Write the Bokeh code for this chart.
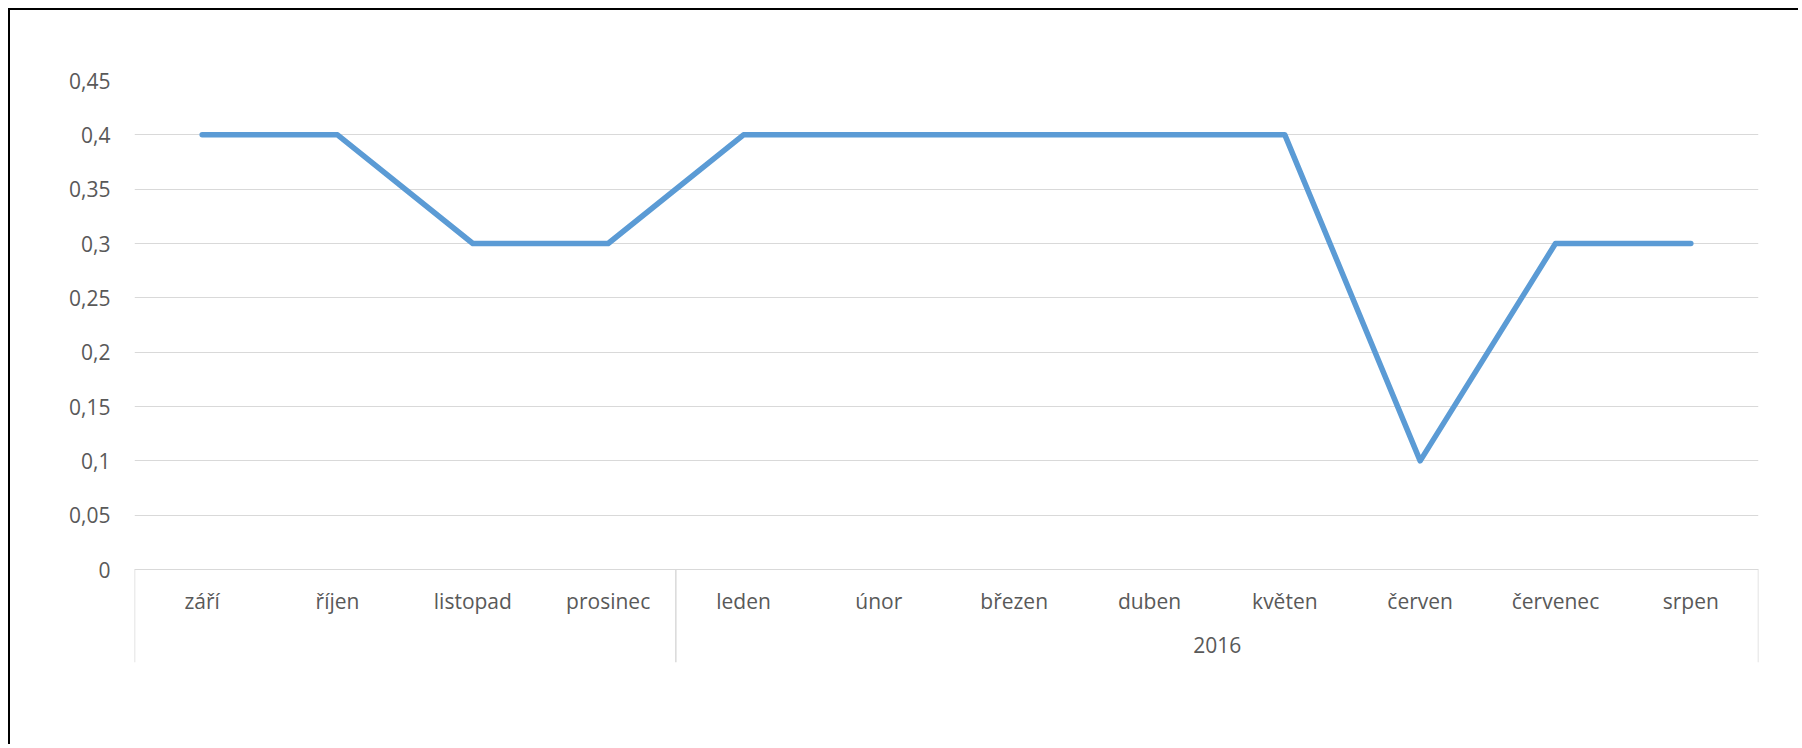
from bokeh.plotting import figure
from bokeh.models import (FactorRange, Range1d, FixedTicker, CustomJSTickFormatter,
                          CategoricalAxis, ColumnDataSource)
from bokeh.embed import file_html
from bokeh.resources import INLINE

# ---- data ----
months = ["září", "říjen", "listopad", "prosinec", "leden", "únor",
          "březen", "duben", "květen", "červen", "červenec", "srpen"]
years = [" ", " ", " ", " ", "2016", "2016", "2016", "2016",
         "2016", "2016", "2016", "2016"]
values = [0.4, 0.4, 0.3, 0.3, 0.4, 0.4, 0.4, 0.4, 0.4, 0.1, 0.3, 0.3]
y_ticks = [0, 0.05, 0.1, 0.15, 0.2, 0.25, 0.3, 0.35, 0.4, 0.45]

# ---- style ----
FONT = "Open Sans"
TEXT_COLOR = "#595959"
GRID_COLOR = "#D9D9D9"
LINE_COLOR = "#5B9BD5"
FONT_SIZE = "21px"

W, H = 1790, 736
ML, MR, MT, MB = 124, 42, 70, 84
frame_h = H - MT - MB
axis_depth_px = 93          # depth of the category axis band below 0
y_top = y_ticks[-1]
y_bottom = -y_top * axis_depth_px / (frame_h - axis_depth_px)

x_range = FactorRange(*months, range_padding=0, factor_padding=0)
p = figure(width=W, height=H, x_range=x_range, y_range=Range1d(y_bottom, y_top),
           output_backend="svg", toolbar_location=None,
           min_border_left=ML, min_border_right=MR,
           min_border_top=MT, min_border_bottom=MB)
p.styles = {"margin-top": "8px", "margin-left": "8px",
            "border-top": "2px solid #000000", "border-left": "2px solid #000000"}
p.outline_line_color = None
p.background_fill_color = "white"
p.border_fill_color = "white"

# nested range for the year group row
nested = FactorRange(*list(zip(years, months)), range_padding=0,
                     factor_padding=0, group_padding=0)
p.extra_x_ranges = {"grouped": nested}

# grid
p.xgrid.visible = False
p.ygrid.ticker = FixedTicker(ticks=y_ticks)
p.ygrid.grid_line_color = GRID_COLOR
p.ygrid.grid_line_width = 1.2

# y axis
yax = p.yaxis[0]
yax.ticker = FixedTicker(ticks=y_ticks)
yax.formatter = CustomJSTickFormatter(code="return tick.toString().replace('.', ',')")
yax.axis_line_color = None
yax.major_tick_line_color = None
yax.minor_tick_line_color = None
yax.major_label_standoff = 18
yax.major_label_text_font = FONT
yax.major_label_text_font_size = FONT_SIZE
yax.major_label_text_color = TEXT_COLOR

# month axis at y = 0
xax = p.xaxis[0]
xax.fixed_location = 0
xax.axis_line_color = GRID_COLOR
xax.axis_line_width = 1.2
xax.major_tick_line_color = None
xax.major_label_standoff = 11
xax.major_label_text_font = FONT
xax.major_label_text_font_size = FONT_SIZE
xax.major_label_text_color = TEXT_COLOR

# year group axis (month row hidden)
gax = CategoricalAxis(x_range_name="grouped", fixed_location=0)
gax.axis_line_color = None
gax.major_tick_line_color = None
gax.separator_line_color = None
gax.major_label_standoff = 55
gax.major_label_text_font = FONT
gax.major_label_text_font_size = FONT_SIZE
gax.major_label_text_alpha = 0
gax.group_text_font = FONT
gax.group_text_font_size = FONT_SIZE
gax.group_text_font_style = "normal"
gax.group_text_color = TEXT_COLOR
p.add_layout(gax, "below")

# group separators (boundaries between year groups, and ends)
bounds = [0] + [i for i in range(1, len(years)) if years[i] != years[i - 1]] + [len(years)]
sep = ColumnDataSource(dict(x0=bounds, x1=bounds, y0=[0] * len(bounds), y1=[y_bottom] * len(bounds)))
p.segment(x0="x0", y0="y0", x1="x1", y1="y1", source=sep,
          line_color=GRID_COLOR, line_width=1.5)

# data line
p.line(x=months, y=values, line_color=LINE_COLOR, line_width=5.5,
       line_join="round", line_cap="round")

open("out.html", "w").write(file_html(p, INLINE))
